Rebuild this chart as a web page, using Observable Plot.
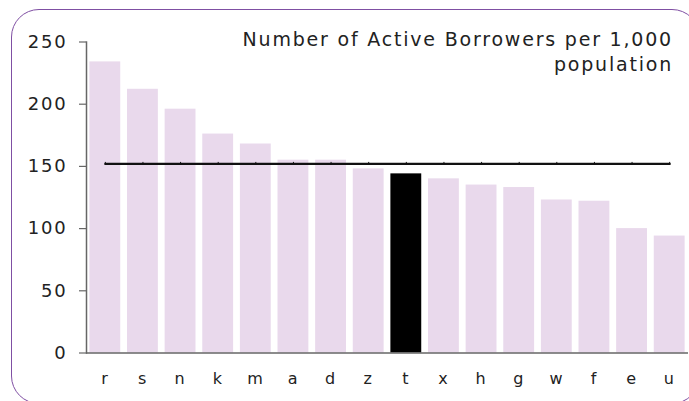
<!DOCTYPE html>
<html>
<head>
<meta charset="utf-8">
<script src="https://cdn.jsdelivr.net/npm/d3@7"></script>
<script src="https://cdn.jsdelivr.net/npm/@observablehq/plot@0.6"></script>
<style>
  html, body { margin: 0; padding: 0; background: #fff; }
  body { width: 689px; height: 401px; position: relative; overflow: hidden; font-family: "DejaVu Sans", sans-serif; }
  #frame { position: absolute; left: 11px; top: 9px; width: 689px; height: 395px; border: 1.5px solid #7f4fa3; border-radius: 28px; box-sizing: border-box; }
  #chart { position: absolute; left: 0; top: 0; }
  #title { position: absolute; right: 16px; top: 27px; text-align: right; font-size: 19px; line-height: 25px; letter-spacing: 1.8px; color: #222; }
</style>
</head>
<body>
<div id="frame"></div>
<div id="chart"></div>
<div id="title">Number of Active Borrowers per 1,000<br>population</div>
<script>
const categories = ["r","s","n","k","m","a","d","z","t","x","h","g","w","f","e","u"];
const values = [234,212,196,176,168,155,155,148,144,140,135,133,123,122,100,94];
const highlight = "t";
const average = 152;
const yTicks = [0,50,100,150,200,250];

const data = categories.map((c, i) => ({cat: c, value: values[i], avg: average}));

const chart = Plot.plot({
  width: 689,
  height: 401,
  marginLeft: 86,
  marginRight: 1,
  marginTop: 41.5,
  marginBottom: 48.5,
  style: {fontFamily: "DejaVu Sans, sans-serif", fontSize: "18px", color: "#222", letterSpacing: "1.8px", background: "transparent"},
  x: {domain: categories, paddingInner: 0.18, paddingOuter: 0.09, round: false, label: null},
  y: {domain: [0, 250], label: null},
  marks: [
    Plot.barY(data, {x: "cat", y: "value", fill: d => d.cat === highlight ? "#000" : "#e9d9ec"}),
    Plot.line(data, {x: "cat", y: "avg", stroke: "#111", strokeWidth: 2.2}),
    Plot.ruleX(data, {x: "cat", y1: "avg", y2: "avg", insetTop: -1.5, insetBottom: -1.5, stroke: "#111", strokeWidth: 1}),
    Plot.frame({anchor: "left", stroke: "#666", strokeWidth: 1.5}),
    Plot.ruleY([0], {stroke: "#666", strokeWidth: 1.5}),
    Plot.axisY({ticks: yTicks, tickSize: 7, tickPadding: 12, stroke: "#666", fill: "#222", strokeOpacity: 1, strokeWidth: 1.2, tickFormat: d => String(d), label: null}),
    Plot.axisX({tickSize: 0, tickPadding: 20, fill: "#222", fontSize: 16, label: null})
  ]
});
document.getElementById("chart").appendChild(chart);
</script>
</body>
</html>
